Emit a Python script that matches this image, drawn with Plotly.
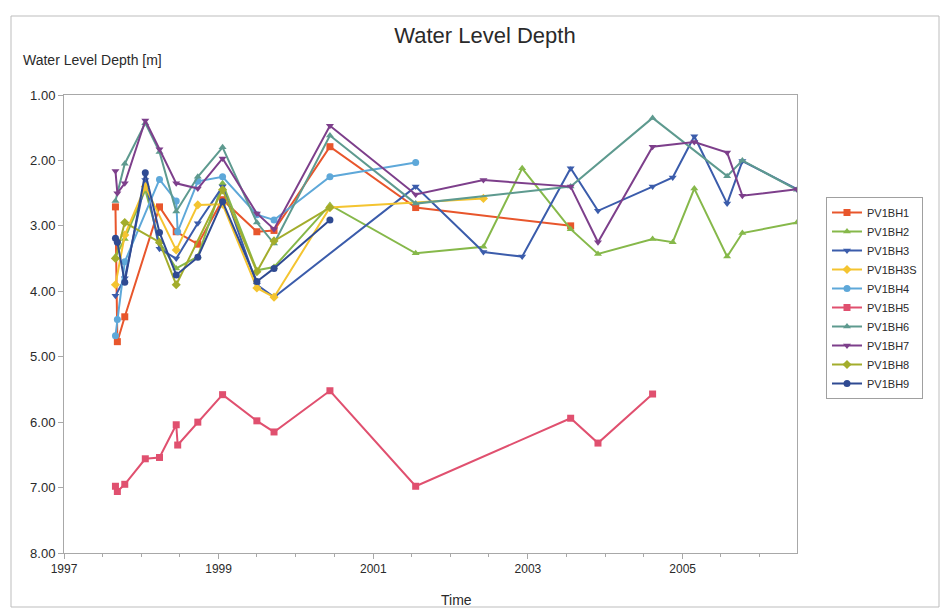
import plotly.graph_objects as go

# Sampling dates shared by the monitoring boreholes
sample_dates = [
    "1997-09-01", "1997-09-10", "1997-10-15", "1998-01-20", "1998-03-28",
    "1998-06-15", "1998-06-22", "1998-09-25", "1999-01-20", "1999-07-01",
    "1999-09-20", "2000-06-10", "2001-07-20", "2002-06-05", "2002-12-05",
    "2003-07-22", "2003-11-28", "2004-08-12", "2004-11-15", "2005-02-25",
    "2005-07-30", "2005-10-10", "2006-06-25",
]

N = None
# Water level depth below ground [m] per borehole (None = not measured)
PV1BH1 = [2.71, 4.77, 4.39, N, 2.71, 3.09, N, 3.28, 2.60, 3.09, 3.07, 1.79, 2.72,
          N, N, 3.00, N, N, N, N, N, N, N]
PV1BH2 = [3.47, N, 3.20, 2.45, 3.25, 3.65, N, 3.47, 2.35, 3.68, 3.63, 2.68, 3.42,
          3.32, 2.12, 3.05, 3.43, 3.20, 3.25, 2.43, 3.47, 3.11, 2.95]
PV1BH3 = [4.07, N, 3.80, 2.30, 3.35, 3.50, N, 2.96, 2.40, 3.90, 4.09, N, 2.40,
          3.40, 3.47, 2.12, 2.77, 2.40, 2.26, 1.63, 2.66, 2.01, 2.44]
PV1BH3S = [3.90, N, 3.14, 2.40, N, 3.37, N, 2.68, 2.67, 3.95, 4.09, 2.72, N,
           2.58, N, N, N, N, N, N, N, N, N]
PV1BH4 = [4.68, 4.43, 3.55, N, 2.29, 2.62, 3.09, 2.32, 2.25, 2.83, 2.91, 2.25, 2.03,
          N, N, N, N, N, N, N, N, N, N]
PV1BH5 = [6.98, 7.06, 6.95, 6.56, 6.54, 6.04, 6.35, 6.00, 5.58, 5.98, 6.15, 5.52, 6.98,
          N, N, 5.94, 6.32, 5.57, N, N, N, N, N]
PV1BH6 = [2.62, N, 2.05, 1.43, 1.87, 2.78, N, 2.25, 1.80, 2.95, 3.27, 1.62, 2.66,
          N, N, 2.40, N, 1.35, N, N, 2.24, 2.00, 2.45]
PV1BH7 = [2.16, 2.50, 2.35, 1.39, 1.83, 2.35, N, 2.43, 1.97, 2.81, 3.05, 1.47, 2.52,
          2.30, N, 2.40, 3.25, 1.79, N, 1.72, 1.88, 2.54, 2.44]
PV1BH8 = [3.50, N, 2.95, N, 3.25, 3.90, N, N, 2.45, 3.70, 3.23, 2.72, N,
          N, N, N, N, N, N, N, N, N, N]
PV1BH9 = [3.19, 3.25, 3.86, 2.19, 3.10, 3.75, N, 3.48, 2.63, 3.85, 3.65, 2.91, N,
          N, N, N, N, N, N, N, N, N, N]

series_names = ["PV1BH1", "PV1BH2", "PV1BH3", "PV1BH3S", "PV1BH4",
                "PV1BH5", "PV1BH6", "PV1BH7", "PV1BH8", "PV1BH9"]
series_values = [PV1BH1, PV1BH2, PV1BH3, PV1BH3S, PV1BH4,
                 PV1BH5, PV1BH6, PV1BH7, PV1BH8, PV1BH9]
series_colors = ["#e8562c", "#86b84a", "#3b5cab", "#f4c430", "#5ea8d9",
                 "#e0506f", "#5e9a8f", "#7d3f8b", "#a3ad2c", "#2f4a92"]
series_symbols = ["square", "triangle-up", "triangle-down", "diamond", "circle",
                  "square", "triangle-up", "triangle-down", "diamond", "circle"]

y_ticks = [1, 2, 3, 4, 5, 6, 7, 8]
y_tick_labels = ["1.00", "2.00", "3.00", "4.00", "5.00", "6.00", "7.00", "8.00"]
x_tick_dates = ["1997-01-01", "1999-01-01", "2001-01-01", "2003-01-01", "2005-01-01"]
x_tick_labels = ["1997", "1999", "2001", "2003", "2005"]

FONT = "Liberation Sans, Arial, sans-serif"
TEXT = "#2a2a2a"
AXIS = "#a8a8a8"

fig = go.Figure()
for name, vals, col, sym in zip(series_names, series_values, series_colors, series_symbols):
    fig.add_trace(go.Scatter(
        x=sample_dates, y=vals, name=name, mode="lines+markers",
        connectgaps=True,
        line=dict(color=col, width=2),
        marker=dict(symbol=sym, size=7, color=col),
    ))

# plot area in pixels: x 64..797, y 95..553
L, R, T, B = 64, 797, 95, 553
W, H = 947, 609
def px(xp):
    return (xp - L) / (R - L)
def py(yp):
    return (B - yp) / (B - T)

fig.update_layout(
    width=W, height=H,
    margin=dict(l=L, r=W - R, t=T, b=H - B),
    paper_bgcolor="white", plot_bgcolor="white",
    font=dict(family=FONT, size=12, color=TEXT),
    title=dict(text="Water Level Depth", x=485 / W, xanchor="center",
               y=1 - 35 / H, yanchor="middle",
               font=dict(size=22, color=TEXT, family=FONT)),
    showlegend=True,
    legend=dict(
        x=px(826), xanchor="left", y=py(197), yanchor="top",
        bordercolor="#a0a0a0", borderwidth=1, bgcolor="white",
        font=dict(size=11, color=TEXT, family=FONT),
        itemwidth=30, tracegroupgap=0,
    ),
    xaxis=dict(
        type="date", range=["1997-01-01", "2006-06-25"],
        tickmode="array", tickvals=x_tick_dates, ticktext=x_tick_labels,
        ticks="outside", ticklen=5, tickcolor=AXIS,
        showline=True, linecolor=AXIS, linewidth=1, mirror=True,
        showgrid=False, zeroline=False,
        tickfont=dict(size=12, color=TEXT),
        minor=dict(dtick="M6", tick0="1997-01-01", ticks="outside",
                   ticklen=3, tickcolor=AXIS, showgrid=False),
    ),
    yaxis=dict(
        range=[8, 1], tickmode="array", tickvals=y_ticks, ticktext=y_tick_labels,
        ticks="outside", ticklen=5, tickcolor=AXIS,
        showline=True, linecolor=AXIS, linewidth=1, mirror=True,
        showgrid=False, zeroline=False,
        tickfont=dict(size=13, color=TEXT),
    ),
    annotations=[
        dict(text="Water Level Depth [m]", xref="paper", yref="paper",
             x=px(21), y=py(60), xanchor="left", yanchor="middle",
             showarrow=False, font=dict(size=14, color=TEXT)),
        dict(text="Time", xref="paper", yref="paper",
             x=px(456), y=py(600), xanchor="center", yanchor="middle",
             showarrow=False, font=dict(size=14, color=TEXT)),
    ],
    shapes=[
        dict(type="rect", xref="paper", yref="paper",
             x0=px(11), x1=px(939), y0=py(607), y1=py(16),
             line=dict(color="#bdbdbd", width=1), layer="below"),
    ],
)

fig.write_html("out.html")
